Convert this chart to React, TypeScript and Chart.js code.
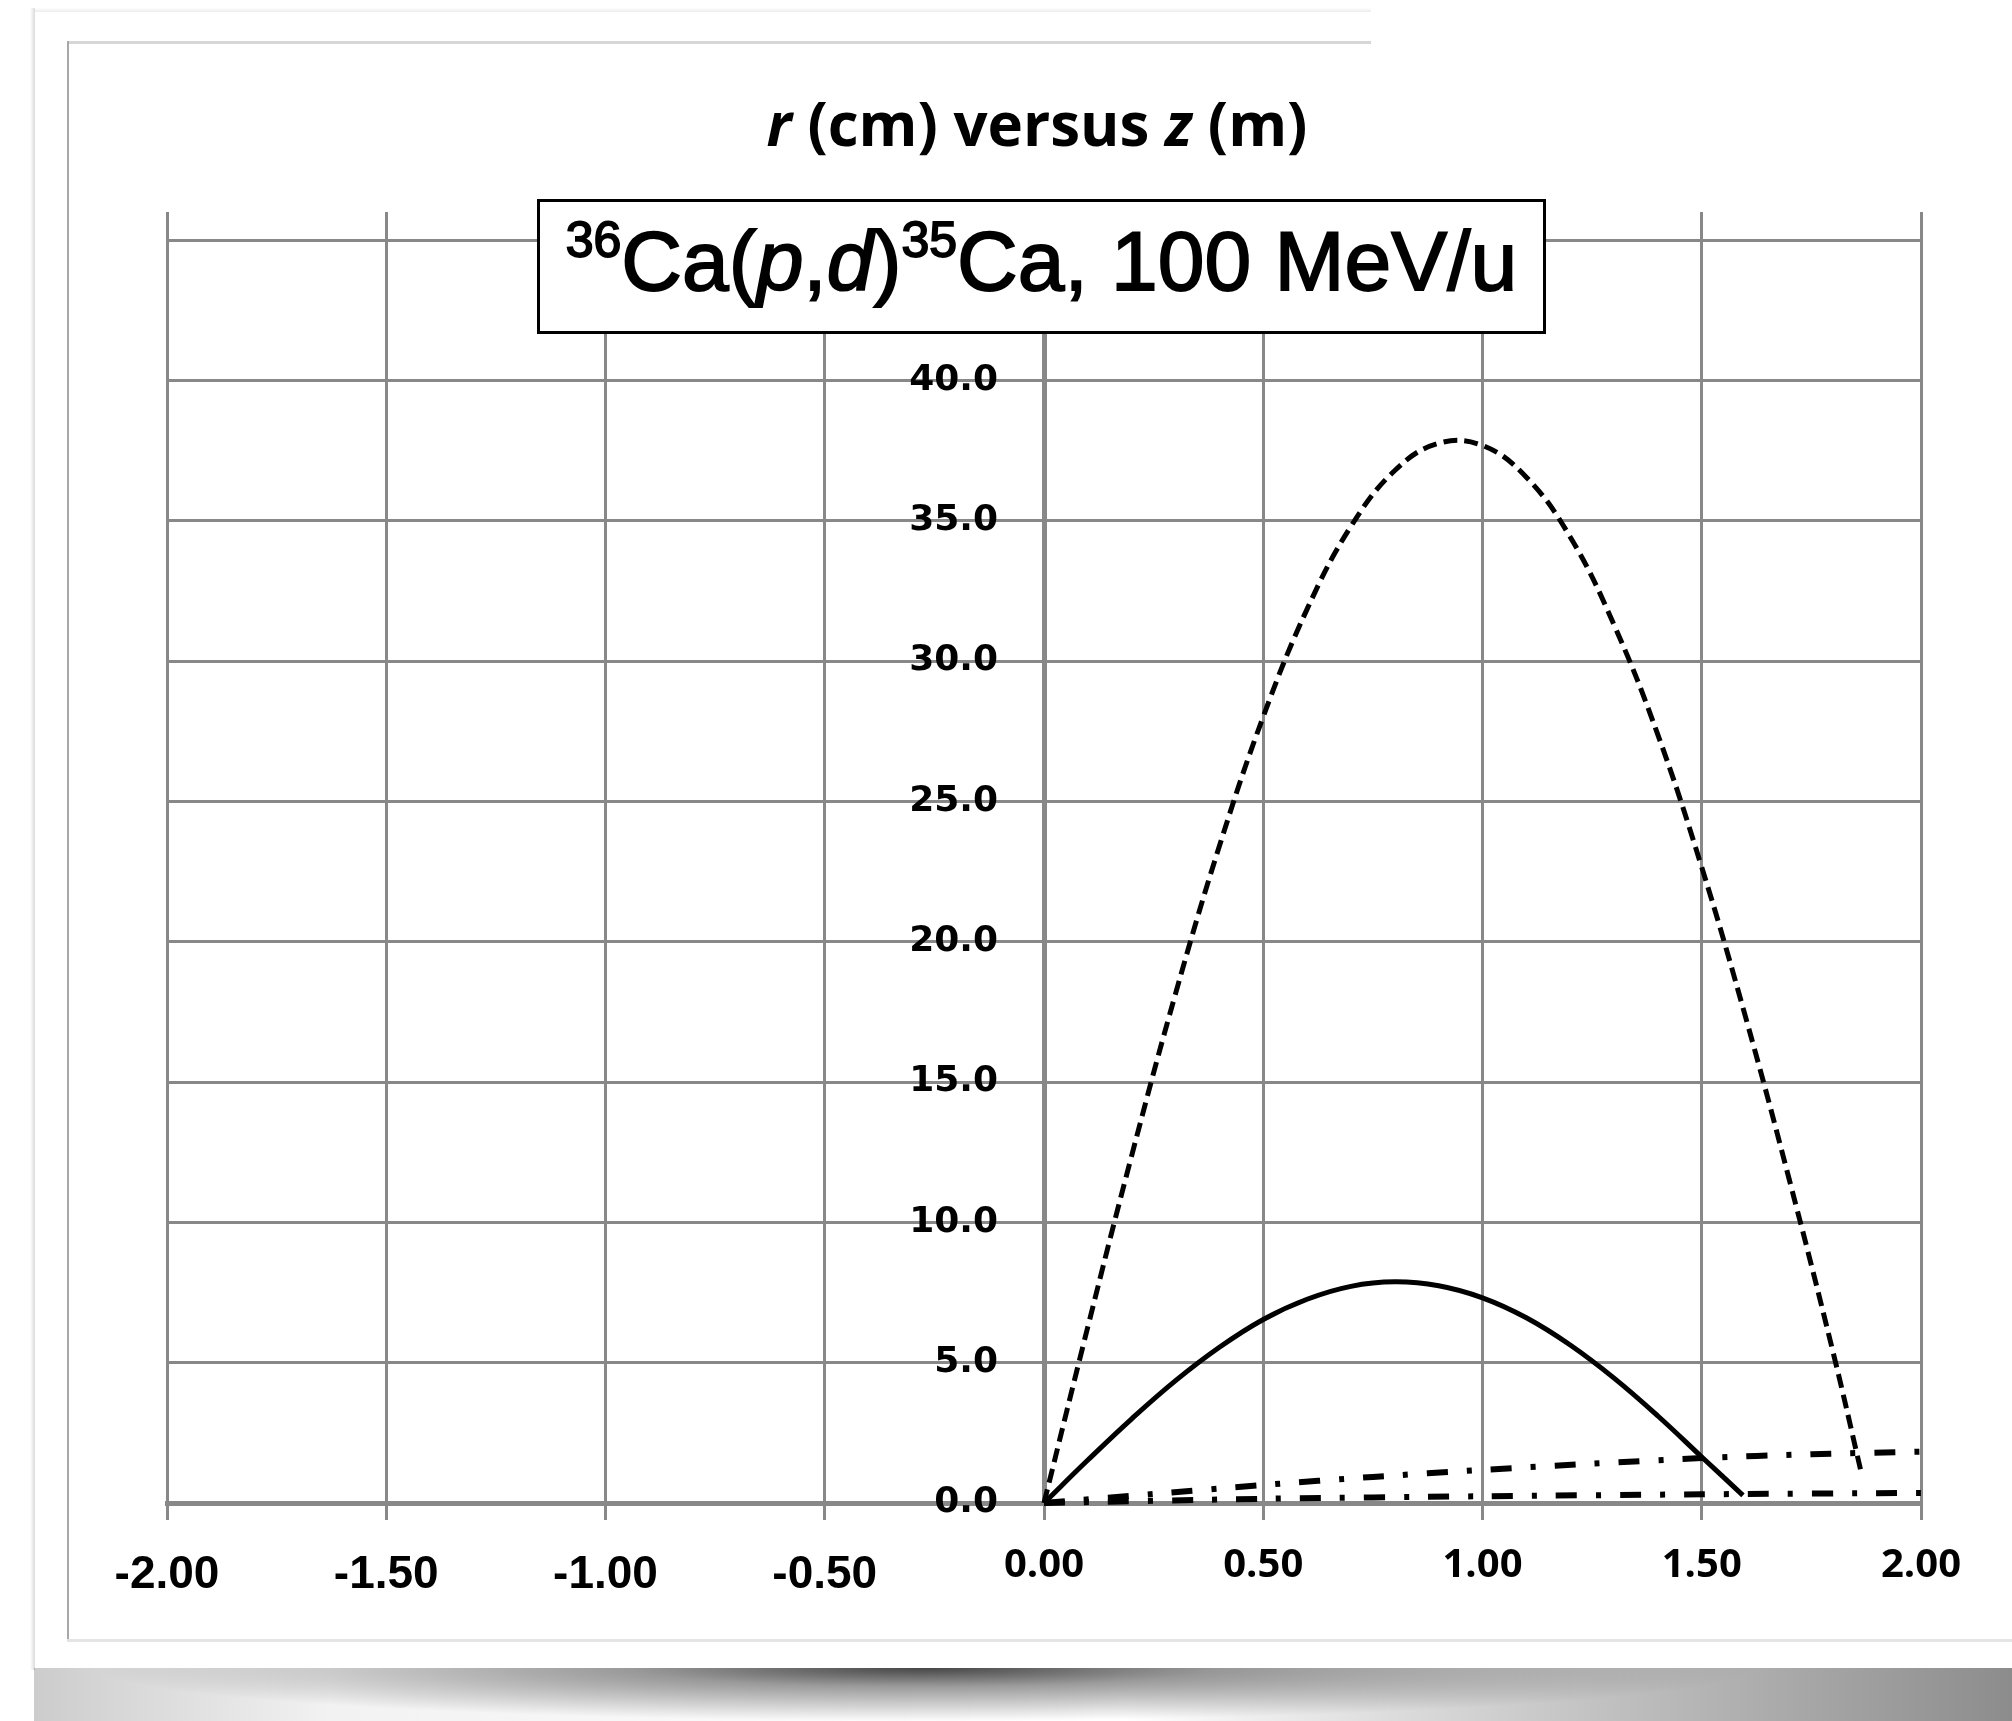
import React, { useEffect, useRef } from "react";
import { Chart, registerables } from "chart.js";

Chart.register(...registerables);

// ---- data (z in m, r in cm) ----
const zDashed = [0, 0.1, 0.2, 0.3, 0.4, 0.5, 0.6, 0.7, 0.8, 0.9, 1.0, 1.1, 1.2, 1.3, 1.4, 1.5, 1.6, 1.7, 1.8, 1.865];
const rDashed = [0, 6.28, 12.38, 18.15, 23.41, 28.02, 31.85, 34.8, 36.79, 37.76, 37.68, 36.55, 34.42, 31.29, 27.37, 22.65, 17.31, 11.5, 5.34, 1.0];

const zSolid = [0, 0.1, 0.2, 0.3, 0.4, 0.5, 0.6, 0.7, 0.8, 0.9, 1.0, 1.1, 1.2, 1.3, 1.4, 1.5, 1.594];
const rSolid = [0, 1.53, 3.0, 4.36, 5.55, 6.54, 7.26, 7.72, 7.88, 7.74, 7.31, 6.6, 5.63, 4.45, 3.1, 1.64, 0.27];

const zDashDotUpper = [0, 0.25, 0.5, 0.75, 1.0, 1.25, 1.5, 1.75, 2.0];
const rDashDotUpper = [0, 0.32, 0.64, 0.93, 1.18, 1.4, 1.6, 1.74, 1.83];

const zDashDotLower = [0, 0.5, 1.0, 1.5, 2.0];
const rDashDotLower = [0, 0.15, 0.24, 0.31, 0.36];

const xTicks = [-2, -1.5, -1, -0.5, 0, 0.5, 1, 1.5, 2];
const yTicks = [0, 5, 10, 15, 20, 25, 30, 35, 40, 45];

const X_MIN = -2;
const X_MAX = 2;
const Y_MIN = 0;
const Y_MAX = 46;
// z value at which the r-axis labels are anchored (just left of z = 0)
const Y_LABEL_ANCHOR = -0.105;

const GRID = "#888888";

function toXY(zs: number[], rs: number[]) {
  return zs.map((z, i) => ({ x: z, y: rs[i] }));
}

export default function App() {
  const canvasRef = useRef<HTMLCanvasElement | null>(null);

  useEffect(() => {
    const canvas = canvasRef.current;
    if (!canvas) return;
    const chart = new Chart(canvas, {
      type: "scatter",
      data: {
        datasets: [
          {
            label: "dash-dot lower",
            data: toXY(zDashDotLower, rDashDotLower),
            showLine: true,
            borderColor: "#000",
            borderWidth: 6,
            borderDash: [21, 19, 5, 19],
            pointRadius: 0,
            tension: 0.3,
            fill: false,
            clip: false as any,
          },
          {
            label: "dash-dot upper",
            data: toXY(zDashDotUpper, rDashDotUpper),
            showLine: true,
            borderColor: "#000",
            borderWidth: 6,
            borderDash: [21, 19, 5, 19],
            pointRadius: 0,
            tension: 0.3,
            fill: false,
            clip: false as any,
          },
          {
            label: "solid",
            data: toXY(zSolid, rSolid),
            showLine: true,
            borderColor: "#000",
            borderWidth: 5,
            pointRadius: 0,
            tension: 0.4,
            fill: false,
            clip: false as any,
          },
          {
            label: "dashed",
            data: toXY(zDashed, rDashed),
            showLine: true,
            borderColor: "#000",
            borderWidth: 5,
            borderDash: [14, 7],
            pointRadius: 0,
            tension: 0.4,
            fill: false,
            clip: false as any,
          },
        ],
      },
      options: {
        responsive: false,
        animation: false,
        devicePixelRatio: 1,
        layout: { padding: { left: 167, right: 91, top: 212, bottom: 218 } },
        plugins: {
          legend: { display: false },
          tooltip: { enabled: false },
          title: { display: false },
        },
        scales: {
          x: {
            type: "linear",
            position: { y: 0 } as any,
            min: X_MIN,
            max: X_MAX,
            afterBuildTicks: (s: any) => {
              s.ticks = xTicks.map((v) => ({ value: v }));
            },
            grid: {
              color: GRID,
              lineWidth: (ctx: any) => (ctx.tick && ctx.tick.value === 0 ? 5 : 3),
              drawTicks: true,
              tickLength: 14,
              tickColor: GRID,
              tickWidth: 3,
            },
            border: { display: true, color: GRID, width: 5 },
            ticks: {
              padding: 25,
              color: "#000",
              maxRotation: 0,
              autoSkip: false,
              font: (ctx: any) =>
                ctx.tick && ctx.tick.value < 0
                  ? { family: "'Liberation Sans', Arial, sans-serif", weight: "bold", size: 46, lineHeight: 1.45 }
                  : { family: "'Open Sans', sans-serif", weight: "bold", size: 40, lineHeight: 1.2 },
              callback: (v: any) => Number(v).toFixed(2),
            },
          },
          y: {
            type: "linear",
            position: { x: Y_LABEL_ANCHOR } as any,
            min: Y_MIN,
            max: Y_MAX,
            afterBuildTicks: (s: any) => {
              s.ticks = yTicks.map((v) => ({ value: v }));
            },
            grid: { color: GRID, lineWidth: 3, drawTicks: false },
            border: { display: false },
            ticks: {
              padding: 0,
              color: "#000",
              autoSkip: false,
              font: { family: "'DejaVu Sans', Verdana, sans-serif", weight: "bold", size: 36 },
              callback: (v: any) => Number(v).toFixed(1),
            },
          },
        },
      } as any,
    });
    return () => chart.destroy();
  }, []);

  return (
    <div
      style={{
        position: "absolute",
        left: 0,
        top: 0,
        width: 2012,
        height: 1721,
        overflow: "hidden",
        background: "#ffffff",
      }}
    >
      {/* page shadow below the panel */}
      <div
        style={{
          position: "absolute",
          left: 34,
          top: 1668,
          width: 1978,
          height: 53,
          background:
            "radial-gradient(ellipse 42% 100% at 45% 0%, rgba(60,60,60,0.95) 0%, rgba(90,90,90,0.6) 35%, rgba(255,255,255,0) 100%), linear-gradient(to right, rgba(0,0,0,0.2) 0%, rgba(0,0,0,0.05) 15%, rgba(0,0,0,0) 55%, rgba(0,0,0,0.45) 100%)",
        }}
      />
      {/* outer panel edges */}
      <div
        style={{
          position: "absolute",
          left: 30,
          top: 8,
          width: 5,
          height: 1662,
          background: "linear-gradient(to right, rgba(0,0,0,0), rgba(0,0,0,0.14))",
        }}
      />
      <div
        style={{
          position: "absolute",
          left: 35,
          top: 8,
          width: 1336,
          height: 4,
          background: "linear-gradient(to bottom, rgba(0,0,0,0), rgba(0,0,0,0.08))",
        }}
      />
      {/* inner frame */}
      <div style={{ position: "absolute", left: 67, top: 41, width: 1304, height: 3, background: "#d6d6d6" }} />
      <div style={{ position: "absolute", left: 67, top: 41, width: 2, height: 1600, background: "#a8a8a8" }} />
      <div style={{ position: "absolute", left: 67, top: 1639, width: 1945, height: 3, background: "#e4e4e4" }} />

      <canvas
        ref={canvasRef}
        width={2012}
        height={1721}
        style={{ position: "absolute", left: 0, top: 0, width: 2012, height: 1721 }}
      />

      {/* chart title */}
      <div
        style={{
          position: "absolute",
          left: 537,
          top: 93,
          width: 1000,
          textAlign: "center",
          fontFamily: "'Open Sans', sans-serif",
          fontWeight: 700,
          fontSize: 60,
          lineHeight: "60px",
          color: "#000",
          whiteSpace: "nowrap",
        }}
      >
        <i>r</i> (cm) versus <i>z</i> (m)
      </div>

      {/* reaction label box */}
      <div
        style={{
          position: "absolute",
          left: 537,
          top: 199,
          width: 1009,
          height: 135,
          boxSizing: "border-box",
          border: "3px solid #000",
          background: "#fff",
        }}
      >
        <div
          style={{
            position: "absolute",
            left: 0,
            top: 17,
            width: "100%",
            textAlign: "center",
            fontFamily: "'Liberation Sans', Arial, sans-serif",
            fontSize: 84,
            lineHeight: "84px",
            color: "#000",
            whiteSpace: "nowrap",
            WebkitTextStroke: "1.8px #000",
          }}
        >
          <span style={{ fontSize: 50, position: "relative", top: -33 }}>36</span>Ca(<i>p</i>,<i>d</i>)
          <span style={{ fontSize: 50, position: "relative", top: -33 }}>35</span>Ca, 100 MeV/u
        </div>
      </div>
    </div>
  );
}
